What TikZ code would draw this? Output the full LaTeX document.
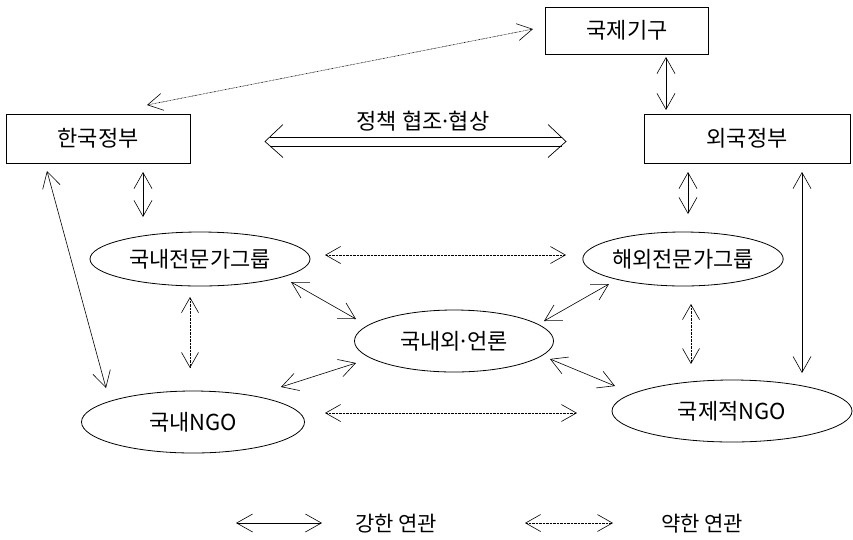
\documentclass[tikz,border=0pt]{standalone}
\usepackage{fontspec}
\setmainfont{Noto Sans CJK KR}
\newfontfamily\kr{Noto Sans CJK KR}
\usetikzlibrary{arrows.meta,shapes.geometric}

% narrow middle dot between words
\newcommand{\mdot}{\kern-0.14em·\kern-0.14em}

\tikzset{
  box/.style={draw, line width=0.8pt, rectangle, inner sep=0pt,
    font=\kr\fontsize{22}{24}\selectfont},
  oval/.style={draw, line width=0.8pt, ellipse, inner sep=0pt,
    font=\kr\fontsize{22}{24}\selectfont},
  lbl/.style={inner sep=0pt, font=\kr\fontsize{21}{24}\selectfont},
  strong/.style={line width=0.6pt, {Straight Barb[length=16pt,width=18pt]}-{Straight Barb[length=16pt,width=18pt]}},
  weak/.style={line width=0.6pt, dash pattern=on 0.7pt off 0.7pt,
    {Straight Barb[length=15pt,width=17pt]}-{Straight Barb[length=15pt,width=17pt]}},
}

\begin{document}
\begin{tikzpicture}[x=1pt,y=-1pt]
\useasboundingbox (0,0) rectangle (853,539);

% actors
\node[box, minimum width=163pt, minimum height=47pt] (intl) at (627,30.5) {국제기구};
\node[box, minimum width=184pt, minimum height=49pt] (kgov) at (98,138.5) {한국정부};
\node[box, minimum width=206pt, minimum height=49pt] (fgov) at (747,138.5) {외국정부};
\node[oval, minimum width=220pt, minimum height=54pt] (dexp) at (200,259) {국내전문가그룹};
\node[oval, minimum width=199pt, minimum height=54pt] (oexp) at (683,259) {해외전문가그룹};
\node[oval, minimum width=199pt, minimum height=62pt] (media) at (454,341) {국내외\mdot 언론};
\node[oval, minimum width=223pt, minimum height=62pt] (dngo) at (193,422) {국내NGO};
\node[oval, minimum width=240pt, minimum height=62pt] (ingo) at (732,411) {국제적NGO};

% policy cooperation between governments: double-lined arrow
\coordinate (polL) at ([shift={(167,3)}]kgov.center);
\coordinate (polR) at ([shift={(-181,3)}]fgov.center);
\node[lbl, font=\kr\fontsize{22}{24}\selectfont] (pol) at (423,121) {정책 협조\mdot 협상};
\draw[line width=0.7pt] ([shift={(4.5,-4.5)}]polL) -- ([shift={(-4.5,-4.5)}]polR);
\draw[line width=0.7pt] ([shift={(4.5,4.5)}]polL) -- ([shift={(-4.5,4.5)}]polR);
\draw[line width=0.7pt] ([shift={(18,-17)}]polL) -- (polL) -- ([shift={(18,16)}]polL);
\draw[line width=0.7pt] ([shift={(-18,-17)}]polR) -- (polR) -- ([shift={(-18,16)}]polR);

% strong links
\draw[strong] ([shift={(39,26.5)}]intl.center) -- ([shift={(-81,-28.5)}]fgov.center);
\draw[strong] ([shift={(45,33.5)}]kgov.center) -- ([shift={(-57,-42)}]dexp.center);
\draw[strong] ([shift={(-51,32.5)}]kgov.center) -- ([shift={(-87,-34)}]dngo.center);
\draw[strong] ([shift={(-59,33.5)}]fgov.center) -- ([shift={(5,-45)}]oexp.center);
\draw[strong] ([shift={(55,33.5)}]fgov.center) -- ([shift={(70,-38)}]ingo.center);
\draw[strong] ([shift={(91,23)}]dexp.center) -- ([shift={(-98,-22)}]media.center);
\draw[strong] ([shift={(-74,25)}]oexp.center) -- ([shift={(90,-20)}]media.center);
\draw[strong] ([shift={(-98,22)}]media.center) -- ([shift={(88,-35)}]dngo.center);
\draw[strong] ([shift={(96,18)}]media.center) -- ([shift={(-117,-25)}]ingo.center);

% weak links
\draw[weak] ([shift={(-94,-1.5)}]intl.center) -- ([shift={(49,-33.5)}]kgov.center);
\draw[weak] ([shift={(125,-4)}]dexp.center) -- ([shift={(-117,-4)}]oexp.center);
\draw[weak] ([shift={(132,-9)}]dngo.center) -- ([shift={(-155,2)}]ingo.center);
\draw[weak] ([shift={(-10,38)}]dexp.center) -- ([shift={(-3,-54)}]dngo.center);
\draw[weak] ([shift={(8,45)}]oexp.center) -- ([shift={(-41,-47)}]ingo.center);

% legend
\coordinate (ls1) at (236,523);
\coordinate (ls2) at (322,523);
\coordinate (lw1) at (525,523);
\coordinate (lw2) at (613,523);
\draw[strong] (ls1) -- (ls2);
\draw[weak] (lw1) -- (lw2);
\node[lbl] (lstrong) at (396,524) {강한 연관};
\node[lbl] (lweak) at (702,524) {약한 연관};
\end{tikzpicture}
\end{document}
